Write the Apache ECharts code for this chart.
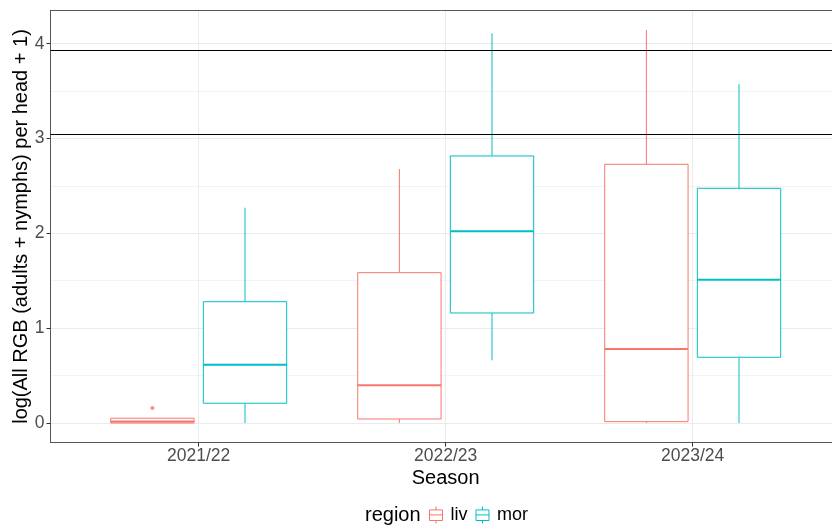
<!DOCTYPE html>
<html>
<head>
<meta charset="utf-8">
<script src="https://cdn.jsdelivr.net/npm/echarts@6/dist/echarts.min.js"></script>
<style>
  html, body { margin: 0; padding: 0; background: #fff; overflow: hidden; }
  #chart { width: 832px; height: 527px; }
</style>
</head>
<body>
<div id="chart"></div>
<script>
"use strict";

var seasons = ['2021/22', '2022/23', '2023/24'];

// five-number summaries, log scale
var livMin = [0, 0, 0];
var livQ1 = [0, 0.042, 0.014];
var livMed = [0.015, 0.397, 0.78];
var livQ3 = [0.05, 1.585, 2.728];
var livMax = [0.05, 2.678, 4.144];
var livOutliers = [[0, 0.158]];

var morMin = [0, 0.661, 0];
var morQ1 = [0.208, 1.16, 0.693];
var morMed = [0.615, 2.021, 1.511];
var morQ3 = [1.279, 2.816, 2.475];
var morMax = [2.27, 4.109, 3.572];

var refLines = [3.045, 3.932];
var yTicks = [0, 1, 2, 3, 4];
var yMinorTicks = [0.5, 1.5, 2.5, 3.5];

var livColor = '#F8766D';
var morColor = '#00BFC4';
var borderColor = '#555';
var font = 'Liberation Sans, Arial, sans-serif';
var dodge = 0.1875;
var boxWidth = 0.3375;
var legendIcon = 'path://M6.5,0L6.5,3.4M0,3.4L13,3.4L13,14L0,14ZM0,8.4L13,8.4M6.5,14L6.5,17';

function toRows(mins, q1s, meds, q3s, maxs) {
    return seasons.map(function (s, i) {
        return [i, mins[i], q1s[i], meds[i], q3s[i], maxs[i]];
    });
}

function boxRenderer(offset, color) {
    return function (params, api) {
        var x = api.value(0) + offset;
        var half = boxWidth / 2;
        var lo = api.coord([x - half, api.value(2)]);
        var hi = api.coord([x + half, api.value(4)]);
        var bottom = api.coord([x, api.value(1)]);
        var top = api.coord([x, api.value(5)]);
        var med = api.coord([x, api.value(3)]);
        var thin = {stroke: color, lineWidth: 1};
        return {
            type: 'group',
            children: [
                {type: 'line', shape: {x1: bottom[0], y1: bottom[1], x2: bottom[0], y2: lo[1]}, style: thin},
                {type: 'line', shape: {x1: top[0], y1: top[1], x2: top[0], y2: hi[1]}, style: thin},
                {type: 'rect', shape: {x: lo[0], y: hi[1], width: hi[0] - lo[0], height: lo[1] - hi[1]},
                    style: {fill: '#fff', stroke: color, lineWidth: 1}},
                {type: 'line', shape: {x1: lo[0], y1: med[1], x2: hi[0], y2: med[1]},
                    style: {stroke: color, lineWidth: 2}}
            ]
        };
    };
}

var chart = echarts.init(document.getElementById('chart'));
chart.setOption({
    animation: false,
    textStyle: {fontFamily: font},
    grid: {
        left: 50.5,
        right: -8.9,
        top: 10.4,
        bottom: 84.4,
        containLabel: false,
        outerBoundsMode: 'none',
        show: false
    },
    legend: {
        top: 501,
        left: 424,
        itemWidth: 19,
        itemHeight: 17,
        itemGap: 8,
        textStyle: {fontSize: 18, color: '#000', fontFamily: font},
        data: [
            {name: 'liv', icon: legendIcon, itemStyle: {color: '#fff', borderColor: livColor, borderWidth: 1}},
            {name: 'mor', icon: legendIcon, itemStyle: {color: '#fff', borderColor: morColor, borderWidth: 1}}
        ]
    },
    graphic: [{
        type: 'text',
        left: 365,
        top: 505,
        style: {text: 'region', fontSize: 20, fill: '#000', fontFamily: font}
    }],
    xAxis: [{
        type: 'value',
        min: -0.6,
        max: 2.6,
        name: 'Season',
        nameLocation: 'middle',
        nameGap: 26,
        nameMoveOverlap: false,
        nameTextStyle: {fontSize: 20, color: '#000'},
        axisLine: {show: true, onZero: false, lineStyle: {color: borderColor, width: 1}},
        axisTick: {show: true, length: 4, customValues: [0, 1, 2], lineStyle: {color: '#333'}},
        axisLabel: {
            customValues: [0, 1, 2],
            margin: 5,
            fontSize: 17.5,
            color: '#4D4D4D',
            formatter: function (v) { return seasons[Math.round(v)]; }
        },
        splitLine: {show: true, lineStyle: {color: '#EBEBEB', width: 1}}
    }, {
        // top edge of the panel border
        type: 'value',
        min: -0.6,
        max: 2.6,
        position: 'top',
        axisLine: {show: true, onZero: false, lineStyle: {color: borderColor, width: 1}},
        axisTick: {show: false},
        axisLabel: {show: false},
        splitLine: {show: false}
    }],
    yAxis: [{
        type: 'value',
        min: -0.207,
        max: 4.351,
        name: 'log(All RGB (adults + nymphs) per head + 1)',
        nameLocation: 'middle',
        nameGap: 19,
        nameMoveOverlap: false,
        nameTextStyle: {fontSize: 20, color: '#000'},
        axisLine: {show: true, onZero: false, lineStyle: {color: borderColor, width: 1}},
        axisTick: {show: true, length: 4, customValues: yTicks, lineStyle: {color: '#333'}},
        axisLabel: {customValues: yTicks, margin: 6, fontSize: 17.5, color: '#4D4D4D'},
        splitLine: {show: true, lineStyle: {color: '#EBEBEB', width: 1}}
    }, {
        // minor horizontal grid lines only
        type: 'value',
        min: -0.207,
        max: 4.351,
        position: 'left',
        axisLine: {show: false, onZero: false},
        axisTick: {show: false, customValues: yMinorTicks},
        axisLabel: {show: false, customValues: yMinorTicks},
        splitLine: {show: true, lineStyle: {color: '#F3F3F3', width: 1}}
    }],
    series: [{
        name: 'liv',
        type: 'custom',
        itemStyle: {color: livColor},
        encode: {x: 0, y: [1, 2, 3, 4, 5]},
        renderItem: boxRenderer(-dodge, livColor),
        data: toRows(livMin, livQ1, livMed, livQ3, livMax),
        z: 3
    }, {
        name: 'mor',
        type: 'custom',
        itemStyle: {color: morColor},
        encode: {x: 0, y: [1, 2, 3, 4, 5]},
        renderItem: boxRenderer(dodge, morColor),
        data: toRows(morMin, morQ1, morMed, morQ3, morMax),
        markLine: {
            silent: true,
            symbol: 'none',
            label: {show: false},
            lineStyle: {color: '#000', width: 1, type: 'solid'},
            data: refLines.map(function (v) { return {yAxis: v}; })
        },
        z: 3
    }, {
        name: 'liv',
        type: 'scatter',
        symbolSize: 4,
        itemStyle: {color: livColor},
        data: livOutliers.map(function (p) { return [p[0] - dodge, p[1]]; }),
        z: 4
    }]
});
</script>
</body>
</html>
